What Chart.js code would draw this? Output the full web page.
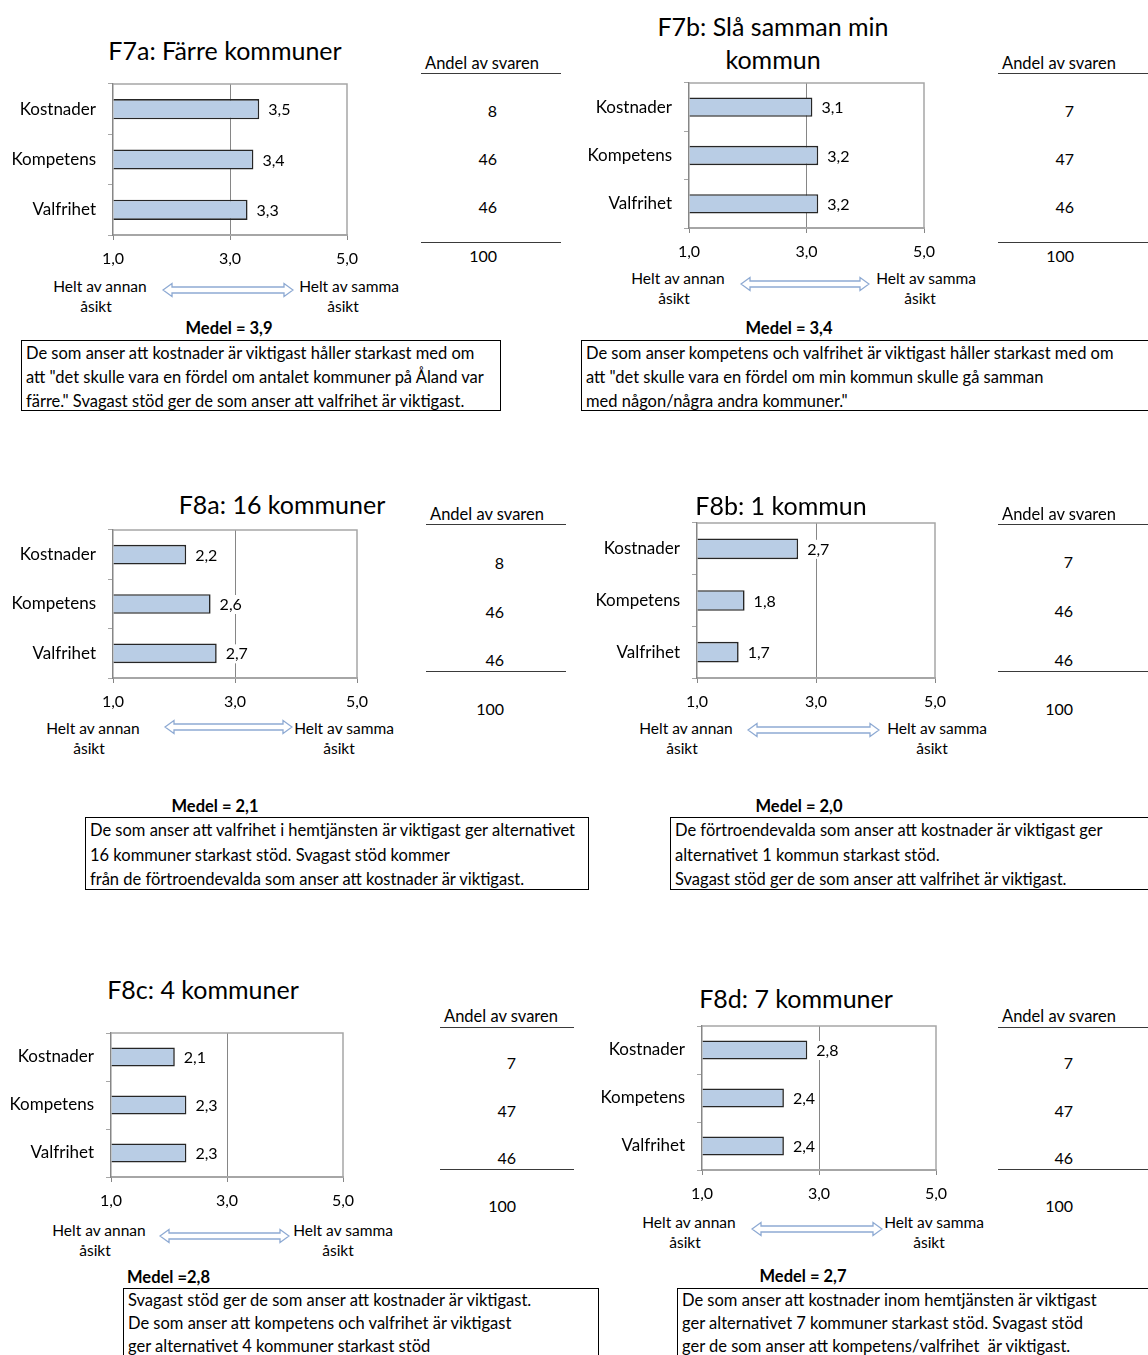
<!DOCTYPE html>
<html lang="sv">
<head>
<meta charset="utf-8">
<title>F7–F8</title>
<script src="https://cdn.jsdelivr.net/npm/chart.js@4.4.0/dist/chart.umd.min.js"></script>
<style>
  html, body { margin: 0; padding: 0; background: #fff; }
  body { width: 1148px; height: 1355px; position: relative; overflow: hidden; font-family: Lato, 'Open Sans', sans-serif; color: #000; }
  .t { position: absolute; white-space: pre; line-height: 1; }
  .rule { position: absolute; height: 0; border-top: 1.5px solid #3a3a3a; }
  .box { position: absolute; border: 1px solid #000; box-sizing: border-box; font-size: 16.5px; padding: 0 4px; white-space: pre; }
  canvas { position: absolute; }
</style>
</head>
<body>
<script>
const categories = ['Kostnader', 'Kompetens', 'Valfrihet']
const xTicks = [1, 3, 5]

const f7aValues = [3.5, 3.4, 3.3]
const f7bValues = [3.1, 3.2, 3.2]
const f8aValues = [2.2, 2.6, 2.7]
const f8bValues = [2.7, 1.8, 1.7]
const f8cValues = [2.1, 2.3, 2.3]
const f8dValues = [2.8, 2.4, 2.4]

const f7aShare = [8, 46, 46]
const f7bShare = [7, 47, 46]
const f8aShare = [8, 46, 46]
const f8bShare = [7, 46, 46]
const f8cShare = [7, 47, 46]
const f8dShare = [7, 47, 46]
const shareTotal = 100

const means = ['Medel = 3,9', 'Medel = 3,4', 'Medel = 2,1', 'Medel = 2,0', 'Medel =2,8', 'Medel = 2,7']

const titles = [
  ['F7a: Färre kommuner'],
  ['F7b: Slå samman min', 'kommun'],
  ['F8a: 16 kommuner'],
  ['F8b: 1 kommun'],
  ['F8c: 4 kommuner'],
  ['F8d: 7 kommuner']
]

const comments = [
  ['De som anser att kostnader är viktigast håller starkast med om', 'att "det skulle vara en fördel om antalet kommuner på Åland var', 'färre." Svagast stöd ger de som anser att valfrihet är viktigast.'],
  ['De som anser kompetens och valfrihet är viktigast håller starkast med om', 'att "det skulle vara en fördel om min kommun skulle gå samman', 'med någon/några andra kommuner."'],
  ['De som anser att valfrihet i hemtjänsten är viktigast ger alternativet', '16 kommuner starkast stöd. Svagast stöd kommer', 'från de förtroendevalda som anser att kostnader är viktigast.'],
  ['De förtroendevalda som anser att kostnader är viktigast ger', 'alternativet 1 kommun starkast stöd.', 'Svagast stöd ger de som anser att valfrihet är viktigast.'],
  ['Svagast stöd ger de som anser att kostnader är viktigast.', 'De som anser att kompetens och valfrihet är viktigast', 'ger alternativet 4 kommuner starkast stöd'],
  ['De som anser att kostnader inom hemtjänsten är viktigast', 'ger alternativet 7 kommuner starkast stöd. Svagast stöd', 'ger de som anser att kompetens/valfrihet  är viktigast.']
]

const values = [f7aValues, f7bValues, f8aValues, f8bValues, f8cValues, f8dValues]
const shares = [f7aShare, f7bShare, f8aShare, f8bShare, f8cShare, f8dShare]

// page positions of each panel (px)
const layout = [
  { plot: [113, 84, 347, 235], title: [225, 50, 33], table: { x: 421, w: 140, head: 63, under: 73, right: 497, rows: [111, 159, 207], line: 242, total: 256 },
    scale: { annan: 100, samma: 349, samma2: 343, y: 287, arrow: [163, 293, 290] }, mean: [229, 328, 'c'], box: [21, 340, 480, 71, 24] },
  { plot: [689, 83, 924, 228], title: [773, 26, 33], table: { x: 998, w: 160, head: 63, under: 73, right: 1074, rows: [111, 159, 207], line: 242, total: 256 },
    scale: { annan: 678, samma: 926, samma2: 920, y: 279, arrow: [741, 869, 284] }, mean: [789, 328, 'c'], box: [581, 340, 600, 71, 24] },
  { plot: [113, 530, 357, 678], title: [282, 504, 33], table: { x: 426, w: 140, head: 514, under: 524, right: 504, rows: [563, 612, 660], line: 671, total: 709 },
    scale: { annan: 93, samma: 344, samma2: 339, y: 729, arrow: [165, 292, 727] }, mean: [215, 806, 'c'], box: [85, 817, 504, 73, 24.5] },
  { plot: [697, 523, 935, 678], title: [781, 505, 33], table: { x: 998, w: 160, head: 514, under: 524, right: 1073, rows: [562, 611, 660], line: 671, total: 709 },
    scale: { annan: 686, samma: 937, samma2: 932, y: 729, arrow: [748, 879, 730] }, mean: [799, 806, 'c'], box: [670, 817, 600, 73, 24.5] },
  { plot: [111, 1033, 343, 1177], title: [203, 989, 33], table: { x: 440, w: 134, head: 1016, under: 1027, right: 516, rows: [1063, 1111, 1158], line: 1169, total: 1206 },
    scale: { annan: 99, samma: 343, samma2: 338, y: 1231, arrow: [160, 289, 1236] }, mean: [127, 1277, 'l'], box: [123, 1288, 476, 100, 23] },
  { plot: [702, 1026, 936, 1170], title: [796, 998, 33], table: { x: 998, w: 160, head: 1016, under: 1027, right: 1073, rows: [1063, 1111, 1158], line: 1169, total: 1206 },
    scale: { annan: 689, samma: 934, samma2: 929, y: 1223, arrow: [752, 882, 1229] }, mean: [803, 1276, 'c'], box: [677, 1288, 600, 100, 23] }
]

const fmt = v => v.toFixed(1).replace('.', ',')

function text (str, x, y, align, css) {
  const el = document.createElement('div')
  el.className = 't'
  el.textContent = str
  const tx = align === 'c' ? '-50%' : align === 'r' ? '-100%' : '0'
  el.style.cssText = `left:${x}px;top:${y}px;transform:translate(${tx},-50%);font-size:15.5px;${css || ''}`
  document.body.appendChild(el)
}

function rule (x, y, w) {
  const el = document.createElement('div')
  el.className = 'rule'
  el.style.cssText = `left:${x}px;top:${y}px;width:${w}px`
  document.body.appendChild(el)
}

function arrow (x1, x2, y) {
  const w = x2 - x1
  const svg = document.createElementNS('http://www.w3.org/2000/svg', 'svg')
  svg.setAttribute('width', w + 2)
  svg.setAttribute('height', 16)
  svg.style.cssText = `position:absolute;left:${x1 - 1}px;top:${y - 8}px`
  const p = document.createElementNS('http://www.w3.org/2000/svg', 'path')
  p.setAttribute('d', `M1,8 L10,1.5 L10,5 L${w - 8},5 L${w - 8},1.5 L${w + 1},8 L${w - 8},14.5 L${w - 8},11 L10,11 L10,14.5 Z`)
  p.setAttribute('fill', '#fff')
  p.setAttribute('stroke', '#8eaad3')
  p.setAttribute('stroke-width', '1.3')
  svg.appendChild(p)
  document.body.appendChild(svg)
}

// value labels at the end of each bar, plus the top/right frame of the plot
const barLabels = {
  id: 'barLabels',
  afterDatasetsDraw (chart) {
    const ctx = chart.ctx
    const a = chart.chartArea
    ctx.save()
    ctx.strokeStyle = '#a6a6a6'
    ctx.lineWidth = 1.5
    ctx.beginPath()
    ctx.moveTo(a.left, a.top)
    ctx.lineTo(a.right, a.top)
    ctx.lineTo(a.right, a.bottom)
    ctx.stroke()
    ctx.font = '16px Lato'
    ctx.textBaseline = 'middle'
    const data = chart.data.datasets[0].data
    chart.getDatasetMeta(0).data.forEach((bar, i) => {
      const s = fmt(data[i])
      const tw = ctx.measureText(s).width
      ctx.fillStyle = '#fff'
      ctx.fillRect(bar.x + 7, bar.y - 9, tw + 4, 19)
      ctx.fillStyle = '#000'
      ctx.fillText(s, bar.x + 9, bar.y + 1)
    })
    ctx.restore()
  }
}

Chart.defaults.font.family = 'Lato'
Chart.defaults.font.size = 16
Chart.defaults.color = '#000'

function drawPanel (i) {
  const L = layout[i]
  const [l, t, r, b] = L.plot
  const yW = 110
  const padTop = 6
  const padRight = 18
  const xH = 40

  const canvas = document.createElement('canvas')
  const w = yW + (r - l) + padRight
  const h = padTop + (b - t) + xH
  canvas.width = w
  canvas.height = h
  canvas.style.cssText = `left:${l - yW}px;top:${t - padTop}px;width:${w}px;height:${h}px`
  document.body.appendChild(canvas)

  new Chart(canvas.getContext('2d'), {
    type: 'bar',
    data: {
      labels: categories,
      datasets: [{
        data: values[i],
        base: 1,
        backgroundColor: '#b9cde5',
        borderColor: '#262626',
        borderWidth: 1.6,
        barPercentage: 0.4,
        categoryPercentage: 1
      }]
    },
    options: {
      indexAxis: 'y',
      responsive: false,
      animation: false,
      devicePixelRatio: 1,
      layout: { padding: { top: padTop, right: padRight, left: 0, bottom: 0 } },
      plugins: { legend: { display: false }, tooltip: { enabled: false } },
      scales: {
        x: {
          min: xTicks[0],
          max: xTicks[xTicks.length - 1],
          afterBuildTicks: scale => { scale.ticks = xTicks.map(v => ({ value: v })) },
          afterFit: scale => {
            scale.height = xH
            scale.paddingLeft = 0
            scale.paddingRight = 0
          },
          ticks: { padding: 9, callback: v => fmt(v), maxRotation: 0 },
          grid: {
            color: c => (c.tick && c.tick.value === 3 ? '#868686' : 'rgba(0,0,0,0)'),
            tickColor: '#868686',
            tickLength: 5,
            lineWidth: 1
          },
          border: { color: '#a6a6a6', width: 2 }
        },
        y: {
          afterFit: scale => {
            scale.width = yW
            scale.paddingTop = 0
            scale.paddingBottom = 0
          },
          ticks: { padding: 12, font: { size: 17 } },
          grid: { offset: true, color: 'rgba(0,0,0,0)', tickColor: '#a6a6a6', tickLength: 5 },
          border: { color: '#868686', width: 1.5 }
        }
      }
    },
    plugins: [barLabels]
  })

  // title
  const [tx, ty, lh] = L.title
  titles[i].forEach((line, k) => text(line, tx, ty + k * lh, 'c', 'font-size:25px'))

  // share table
  const T = L.table
  text('Andel av svaren', T.x + 4, T.head, 'l', 'font-size:16.5px')
  rule(T.x, T.under, T.w)
  shares[i].forEach((v, k) => text(String(v), T.right, T.rows[k], 'r', 'font-size:16px'))
  rule(T.x, T.line, T.w)
  text(String(shareTotal), T.right, T.total, 'r', 'font-size:16px')

  // scale explanation
  const S = L.scale
  text('Helt av annan', S.annan, S.y, 'c')
  text('åsikt', S.annan - 4, S.y + 20, 'c')
  text('Helt av samma', S.samma, S.y, 'c')
  text('åsikt', S.samma2, S.y + 20, 'c')
  arrow(S.arrow[0], S.arrow[1], S.arrow[2])

  // mean and comment box
  text(means[i], L.mean[0], L.mean[1], L.mean[2], 'font-weight:700;font-size:16.5px')
  const [bx, by, bw, bh, blh] = L.box
  const box = document.createElement('div')
  box.className = 'box'
  box.style.cssText = `left:${bx}px;top:${by}px;width:${bw}px;height:${bh}px;line-height:${blh}px`
  box.textContent = comments[i].join('\n')
  document.body.appendChild(box)
}

for (let i = 0; i < layout.length; i++) drawPanel(i)
</script>
</body>
</html>
